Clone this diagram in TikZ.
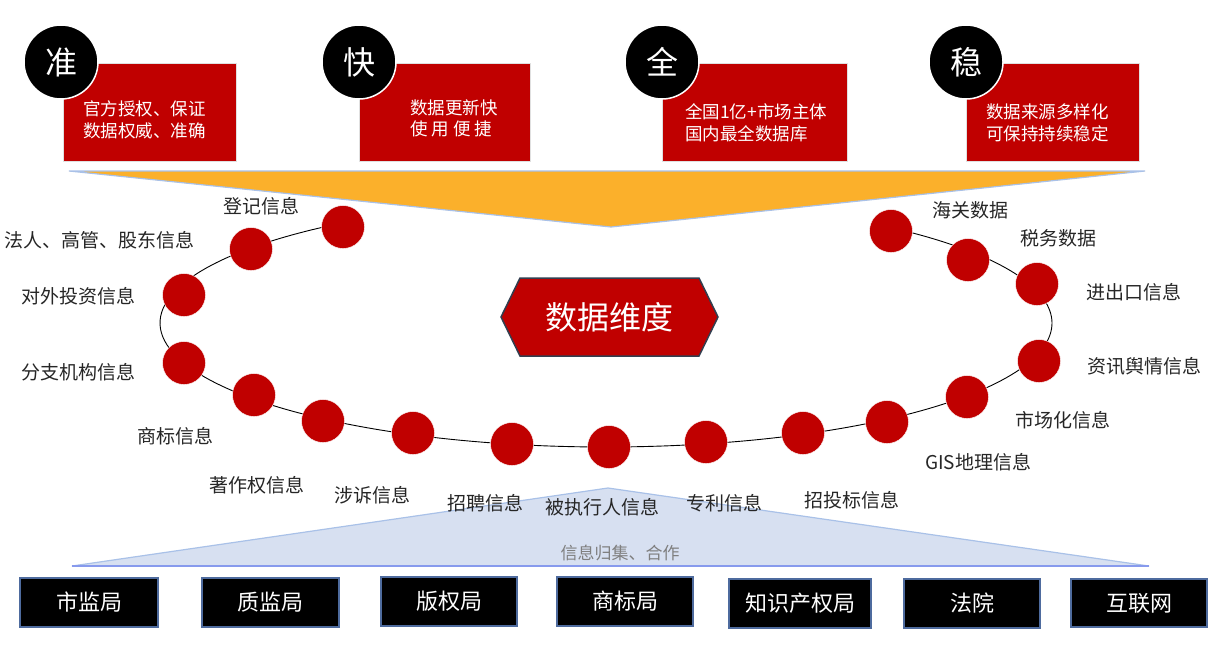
\documentclass[tikz,border=0pt]{standalone}
\usepackage{fontspec}
\setmainfont{Noto Sans CJK SC}
\definecolor{cred}{HTML}{C00000}
\definecolor{corange}{HTML}{FBB02B}
\definecolor{cedge}{HTML}{A9C1E8}
\definecolor{lblue}{HTML}{D7E0F1}
\definecolor{bborder}{HTML}{4E6B9E}
\definecolor{ctext}{HTML}{262626}
\definecolor{cgray}{HTML}{7F7F7F}
\definecolor{hexborder}{HTML}{323E4F}
\tikzset{
  redbox/.style={fill=cred, draw=black!12, line width=1pt, inner sep=0},
  topcirc/.style={circle, fill=black, draw=white, line width=1.5pt, minimum size=74pt, inner sep=0, text=white, font=\fontsize{32}{32}\selectfont},
  boxtxt/.style={text=white, align=left, anchor=west, inner sep=0, font=\fontsize{17.5}{21.5}\selectfont},
  dot/.style={circle, fill=cred, draw=white, line width=0.4pt, minimum size=43pt, inner sep=0},
  lbl/.style={text=ctext, inner sep=0, font=\fontsize{19}{19}\selectfont},
  srcbox/.style={fill=black, draw=bborder, line width=1.5pt, text=white, font=\fontsize{22}{22}\selectfont, inner sep=0, minimum height=49pt},
  curve/.style={draw=black, line width=0.9pt},
}
\begin{document}
\begin{tikzpicture}[x=1pt,y=-1pt]
\useasboundingbox (0,0) rectangle (1212,649);
\fill[white] (0,0) rectangle (1212,649);

% orange funnel
\coordinate (oa) at (69,171);
\coordinate (ob) at (1145,171);
\coordinate (oc) at (611,227);
\filldraw[fill=corange, draw=cedge, line width=1.2pt] (oa) -- (ob) -- (oc) -- cycle;

% light blue triangle
\coordinate (ba) at (72,566);
\coordinate (bb) at (1149,566);
\coordinate (bc) at (608,488);
\filldraw[fill=lblue, draw=cedge, line width=1.2pt] (ba) -- (bb) -- (bc) -- cycle;
\draw[draw=cedge!80!blue, line width=1.5pt] (ba) -- (bb);
\node[text=cgray, inner sep=0, font=\fontsize{17}{17}\selectfont] (gather) at (620,553) {信息归集、合作};

% top red boxes
\node[redbox, minimum width=173pt, minimum height=98pt] (r1) at (149.5,112) {};
\node[redbox, minimum width=171pt, minimum height=98pt] (r2) at (444.5,112) {};
\node[redbox, minimum width=185pt, minimum height=98pt] (r3) at (754.5,112) {};
\node[redbox, minimum width=173pt, minimum height=98pt] (r4) at (1052.5,112) {};
\node[boxtxt] (t1) at (83,120) {官方授权、保证\\数据权威、准确};
\node[boxtxt] (t2) at (410,118.5) {数据更新快\\使 用 便 捷};
\node[boxtxt] (t3) at (685,123) {全国1亿+市场主体\\国内最全数据库};
\node[boxtxt] (t4) at (986,123) {数据来源多样化\\可保持持续稳定};
\node[topcirc] (q1) at (61,62) {准};
\node[topcirc] (q2) at (359,62) {快};
\node[topcirc] (q3) at (662,62) {全};
\node[topcirc] (q4) at (966,62) {稳};

% central hexagon
\filldraw[fill=cred, draw=hexborder, line width=1.5pt]
  (501,317) -- (520,278) -- (699,278) -- (718,317) -- (699,356) -- (520,356) -- cycle;
\node[text=white, inner sep=0, font=\fontsize{32}{32}\selectfont] (hex) at (609.5,317) {数据维度};

% ring curve (open ellipse)
\coordinate (ec) at (606,323);
\draw[curve] ([shift={(-49.3:446 and 124)}]ec) arc[start angle=-49.3, end angle=232.7, x radius=446, y radius=124];

\coordinate (p1) at (343,227);
\coordinate (p2) at (251,249);
\coordinate (p3) at (184,295);
\coordinate (p4) at (184,363);
\coordinate (p5) at (254,395);
\coordinate (p6) at (323,421);
\coordinate (p7) at (413,433);
\coordinate (p8) at (512,444);
\coordinate (p9) at (609,447);
\coordinate (p10) at (706,442);
\coordinate (p11) at (803,433);
\coordinate (p12) at (887,422);
\coordinate (p13) at (967,397);
\coordinate (p14) at (1039,361);
\coordinate (p15) at (1037,284);
\coordinate (p16) at (968,260);
\coordinate (p17) at (891,231);
\foreach \i in {1,...,17} { \node[dot] (c\i) at (p\i) {}; }

% labels
\node[lbl] (l1) at (261,206) {登记信息};
\node[lbl] (l2) at (100,240) {法人、高管、股东信息};
\node[lbl] (l3) at (78,296) {对外投资信息};
\node[lbl] (l4) at (78,372) {分支机构信息};
\node[lbl] (l5) at (175,436) {商标信息};
\node[lbl] (l6) at (257,485) {著作权信息};
\node[lbl] (l7) at (372,495) {涉诉信息};
\node[lbl] (l8) at (485,503) {招聘信息};
\node[lbl] (l9) at (602,507) {被执行人信息};
\node[lbl] (l10) at (724,503) {专利信息};
\node[lbl] (l11) at (852,500) {招投标信息};
\node[lbl] (l12) at (978,462) {GIS地理信息};
\node[lbl] (l13) at (1063,420) {市场化信息};
\node[lbl] (l14) at (1144,366) {资讯舆情信息};
\node[lbl] (l15) at (1134,292) {进出口信息};
\node[lbl] (l16) at (1058,238) {税务数据};
\node[lbl] (l17) at (970,210) {海关数据};

% source boxes
\node[srcbox, minimum width=138pt] (s1) at (89,602.5) {市监局};
\node[srcbox, minimum width=137pt] (s2) at (270.5,602.5) {质监局};
\node[srcbox, minimum width=136pt] (s3) at (449,601.5) {版权局};
\node[srcbox, minimum width=136pt] (s4) at (625,601.5) {商标局};
\node[srcbox, minimum width=142pt] (s5) at (800,603.5) {知识产权局};
\node[srcbox, minimum width=136pt] (s6) at (972,603.5) {法院};
\node[srcbox, minimum width=136pt, minimum height=48pt] (s7) at (1139,603) {互联网};
\end{tikzpicture}
\end{document}
